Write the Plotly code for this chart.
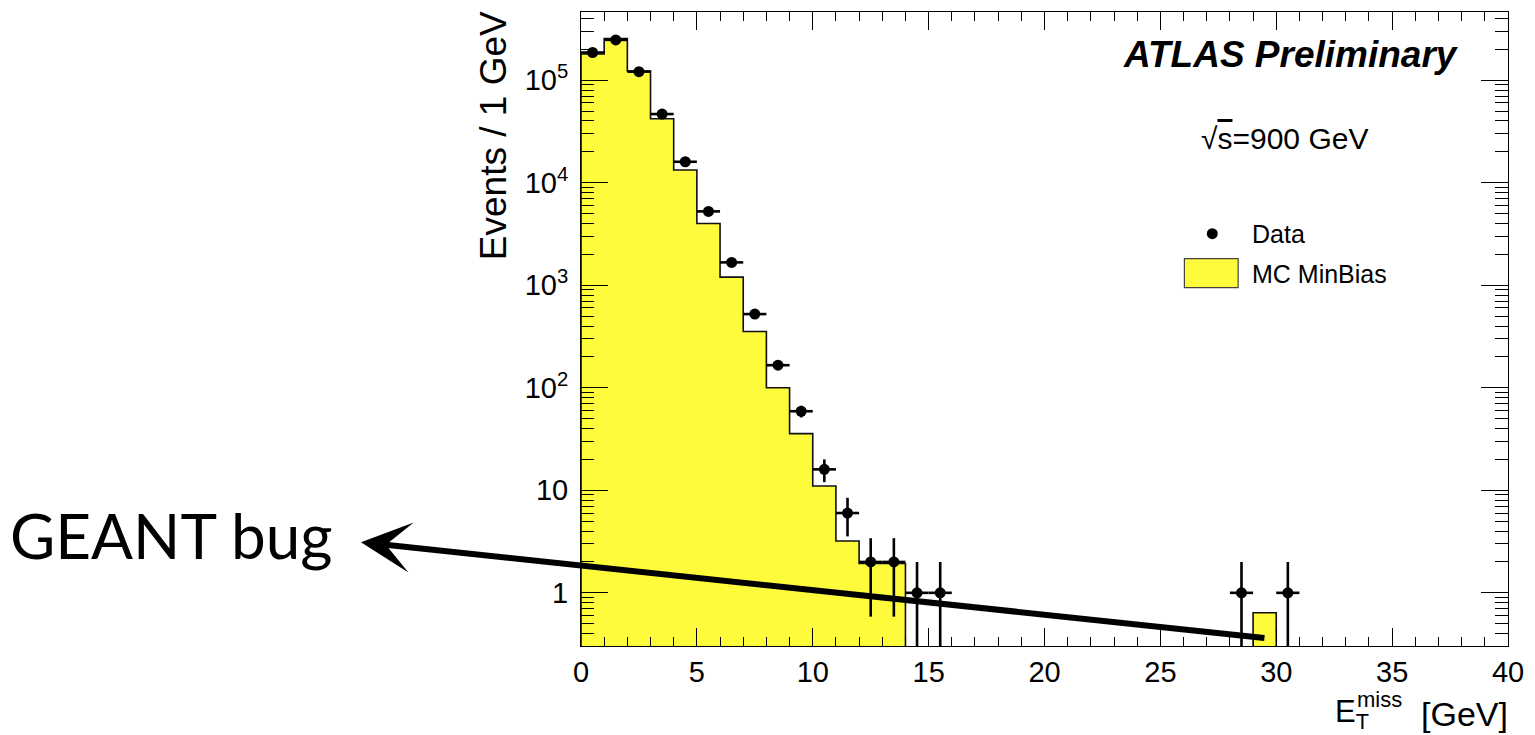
import math
import plotly.graph_objects as go

# ---------------- data ----------------
bin_edges = list(range(0, 41))  # E_T^miss bins, 1 GeV wide, 0..40 GeV
data_counts = [186000, 247000, 121000, 46700, 16000, 5250, 1670, 523, 166, 59,
               16, 6, 2, 2, 1, 1, 0, 0, 0, 0,
               0, 0, 0, 0, 0, 0, 0, 0, 1, 0,
               1, 0, 0, 0, 0, 0, 0, 0, 0, 0]
mc_counts = [180000, 254000, 123000, 42000, 13300, 4000, 1200, 354, 100, 35.7,
             11, 3.2, 1.93, 1.93, 0, 0, 0, 0, 0, 0,
             0, 0, 0, 0, 0, 0, 0, 0, 0, 0.64,
             0, 0, 0, 0, 0, 0, 0, 0, 0, 0]
x_tick_vals = [0, 5, 10, 15, 20, 25, 30, 35, 40]
y_tick_vals = [1, 10, 100, 1000, 10000, 100000]
y_tick_text = ["1", "10", "10<sup>2</sup>", "10<sup>3</sup>", "10<sup>4</sup>", "10<sup>5</sup>"]

# ---------------- geometry helpers ----------------
W, H = 1535, 735
L, R, T, B = 581, 1512, 11, 646


def px(x):
    return (x - L) / (R - L)


def py(y):
    return (B - y) / (B - T)


YELLOW = "#fefb3c"
centers = [(bin_edges[i] + bin_edges[i + 1]) / 2 for i in range(len(bin_edges) - 1)]

fig = go.Figure()

# MC histogram fill
fig.add_trace(go.Bar(
    x=centers, y=[v if v > 0 else None for v in mc_counts], width=1.0,
    marker=dict(color=YELLOW, line=dict(width=0)), showlegend=False,
))

# MC histogram outline (step)
floor = 1e-3
step_x = [bin_edges[0]] + bin_edges[:-1] + [bin_edges[-1]]
step_y = [floor] + [v if v > 0 else floor for v in mc_counts] + [mc_counts[-1] if mc_counts[-1] > 0 else floor]
fig.add_trace(go.Scatter(
    x=step_x, y=step_y, mode="lines", line=dict(color="#111111", width=1.6, shape="hv"),
    showlegend=False, hoverinfo="skip",
))

# Data points with sqrt(N) errors
dx, dy, de_up, de_dn = [], [], [], []
for c, n in zip(centers, data_counts):
    if n > 0:
        dx.append(c)
        dy.append(n)
        e = math.sqrt(n)
        de_up.append(e)
        de_dn.append(min(e, n * 0.999))
fig.add_trace(go.Scatter(
    x=dx, y=dy, mode="markers",
    marker=dict(color="black", size=11, symbol="circle"),
    error_y=dict(type="data", array=de_up, arrayminus=de_dn, symmetric=False,
                 color="black", thickness=2.6, width=0),
    error_x=dict(type="constant", value=0.5, color="black", thickness=2.6, width=0),
    showlegend=False,
))

minor_y = []
for d in range(-1, 6):
    for k in range(2, 10):
        minor_y.append(k * 10 ** d)

fig.update_layout(
    width=W, height=H, autosize=False,
    margin=dict(l=L, r=W - R, t=T, b=H - B, pad=0),
    paper_bgcolor="white", plot_bgcolor="white",
    font=dict(family="Liberation Sans, Arial, sans-serif", color="black"),
    bargap=0,
    xaxis=dict(
        range=[0, 40], tickvals=x_tick_vals, ticks="inside", ticklen=18, tickwidth=1,
        tickcolor="black", showline=True, linecolor="black", linewidth=1, mirror="allticks",
        showgrid=False, zeroline=False, tickfont=dict(size=29), ticklabelstandoff=0,
        minor=dict(dtick=1, ticks="inside", ticklen=9, tickcolor="black", showgrid=False),
    ),
    yaxis=dict(
        type="log", range=[math.log10(0.303), math.log10(4.62e5)],
        tickvals=y_tick_vals, ticktext=y_tick_text, ticks="inside", ticklen=27, tickwidth=1,
        tickcolor="black", showline=True, linecolor="black", linewidth=1, mirror="allticks",
        showgrid=False, zeroline=False, tickfont=dict(size=29), ticklabelstandoff=6,
        minor=dict(tickvals=minor_y, ticks="inside", ticklen=13, tickcolor="black", showgrid=False),
    ),
)

ann = []
# Y title
ann.append(dict(text="Events / 1 GeV", x=px(493), y=py(135), xref="paper", yref="paper",
                textangle=-90, showarrow=False, xanchor="center", yanchor="middle",
                font=dict(size=37)))
# X title
ann.append(dict(text="E<sub>T</sub>", x=px(1336), y=py(714), xref="paper", yref="paper",
                showarrow=False, xanchor="left", yanchor="middle", font=dict(size=31)))
ann.append(dict(text="miss", x=px(1358), y=py(700), xref="paper", yref="paper",
                showarrow=False, xanchor="left", yanchor="middle", font=dict(size=22)))
ann.append(dict(text="[GeV]", x=px(1514), y=py(714), xref="paper", yref="paper",
                showarrow=False, xanchor="right", yanchor="middle", font=dict(size=34)))
# ATLAS Preliminary
ann.append(dict(text="<b><i>ATLAS Preliminary</i></b>", x=px(1465), y=py(54), xref="paper", yref="paper",
                showarrow=False, xanchor="right", yanchor="middle", font=dict(size=37)))
# sqrt(s)
ann.append(dict(text="√<span style='text-decoration:overline'>s</span>=900 GeV", x=px(1202), y=py(138),
                xref="paper", yref="paper",
                showarrow=False, xanchor="left", yanchor="middle", font=dict(size=30)))
# Legend text
ann.append(dict(text="Data", x=px(1253), y=py(233), xref="paper", yref="paper",
                showarrow=False, xanchor="left", yanchor="middle", font=dict(size=25)))
ann.append(dict(text="MC MinBias", x=px(1253), y=py(273), xref="paper", yref="paper",
                showarrow=False, xanchor="left", yanchor="middle", font=dict(size=25)))
# GEANT bug label
ann.append(dict(text="GEANT bug", x=px(170), y=py(535), xref="paper", yref="paper",
                showarrow=False, xanchor="center", yanchor="middle",
                font=dict(size=62, family="Lato, Open Sans, sans-serif")))
# arrow
ann.append(dict(text="", x=px(360), y=py(542), xref="paper", yref="paper",
                showarrow=True, ax=905, ay=96, axref="pixel", ayref="pixel",
                arrowhead=3, arrowsize=1.4, arrowwidth=6, arrowcolor="black", standoff=0))
fig.update_layout(annotations=ann)

# legend symbols (decoration)
fig.add_shape(type="circle", xref="paper", yref="paper",
              x0=px(1209.5), x1=px(1220.5), y0=py(238.5), y1=py(227.5),
              fillcolor="black", line=dict(color="black", width=0))
fig.add_shape(type="rect", xref="paper", yref="paper",
              x0=px(1187), x1=px(1241), y0=py(287), y1=py(258),
              fillcolor=YELLOW, line=dict(color="#444444", width=1.2))

fig.write_html("out.html", config={"displayModeBar": False},
               post_script="document.body.style.margin='0';document.body.style.overflow='hidden';")
